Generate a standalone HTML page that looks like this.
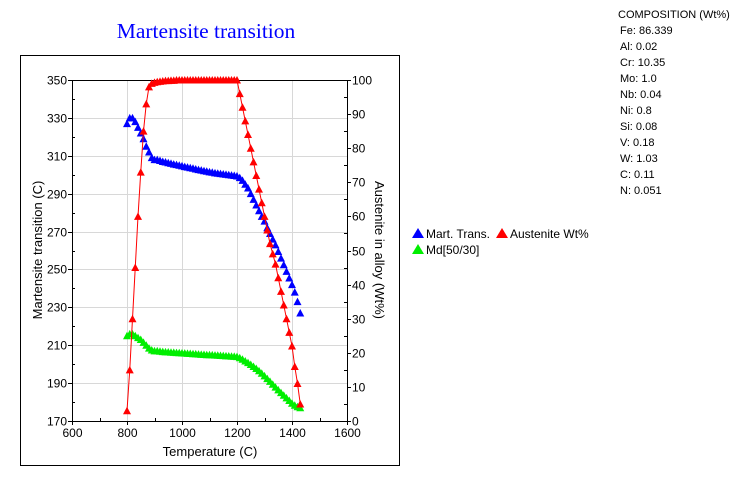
<!DOCTYPE html>
<html><head><meta charset="utf-8"><style>
body{margin:0;background:#fff;width:744px;height:482px;overflow:hidden;font-family:"Liberation Sans",sans-serif}
svg{position:absolute;left:0;top:0}
</style></head><body>
<svg id="c" width="744" height="482" xmlns="http://www.w3.org/2000/svg">
<text x="206" y="38" text-anchor="middle" font-family="Liberation Serif" font-size="21.5" fill="#0000ff">Martensite transition</text>
<rect x="20.5" y="55.5" width="379" height="410" fill="none" stroke="#000"/>
<g id="grid"></g>
<g id="axes"></g>
<g id="series"></g>
<text transform="translate(42,250) rotate(-90)" text-anchor="middle" font-size="13">Martensite transition (C)</text>
<text transform="translate(379,250) rotate(90)" text-anchor="middle" font-size="13" dy="4">Austenite in alloy (Wt%)</text>
<text x="210" y="456" text-anchor="middle" font-size="13">Temperature (C)</text>
<g font-size="12">
<g><polygon points="412,238 418,228 424,238" fill="#0000ff"/><text x="426" y="238">Mart. Trans.</text></g>
<g><polygon points="496,238 502,228 508,238" fill="#ff0000"/><text x="510" y="238">Austenite Wt%</text></g>
<g><polygon points="412,254 418,244 424,254" fill="#00ee00"/><text x="426" y="254">Md[50/30]</text></g>
</g>
<g font-size="11">
<text x="618" y="18">COMPOSITION (Wt%)</text>
<text x="620" y="34">Fe: 86.339</text><text x="620" y="50">Al: 0.02</text><text x="620" y="66">Cr: 10.35</text>
<text x="620" y="82">Mo: 1.0</text><text x="620" y="98">Nb: 0.04</text><text x="620" y="114">Ni: 0.8</text>
<text x="620" y="130">Si: 0.08</text><text x="620" y="146">V: 0.18</text><text x="620" y="162">W: 1.03</text>
<text x="620" y="178">C: 0.11</text><text x="620" y="194">N: 0.051</text>
</g>
</svg>
<script>
const temps=[800,810,820,830,840,850,860,870,880,890,900,910,920,930,940,950,960,970,980,990,1000,1010,1020,1030,1040,1050,1060,1070,1080,1090,1100,1110,1120,1130,1140,1150,1160,1170,1180,1190,1200,1210,1220,1230,1240,1250,1260,1270,1280,1290,1300,1310,1320,1330,1340,1350,1360,1370,1380,1390,1400,1410,1420,1430];
const martTrans=[327,330,330,328,325,322,319,315,312,309,308,308,307.5,307,306.7,306.3,306,305.6,305.3,305,304.7,304.3,304,303.7,303.4,303,302.7,302.4,302.1,301.8,301.5,301.3,301,300.8,300.6,300.4,300.2,300,299.8,299.6,299.3,298.5,297,295,293,290,287,284,281,278,275.5,272,269,266,263,259.5,256,252.5,249,245.5,242,238,233,227];
const mdValues=[215,216,216,215,214,213,211.5,210,208.5,207.5,207,207,206.8,206.6,206.5,206.4,206.3,206.2,206.1,206,205.9,205.8,205.7,205.6,205.5,205.4,205.3,205.2,205.1,205,205,204.9,204.8,204.7,204.6,204.5,204.4,204.3,204.2,204.1,204,203.4,202.6,201.7,200.8,199.8,198.8,197.7,196.5,195.2,193.8,192.4,190.9,189.4,187.9,186.4,185,183.6,182.2,180.8,179.4,178.3,177.5,177];
const austenite=[3,15,30,45,60,73,85,93,98,99,99.3,99.5,99.6,99.7,99.8,99.8,99.9,99.9,100,100,100,100,100,100,100,100,100,100,100,100,100,100,100,100,100,100,100,100,100,100,100,96,92,88,84,80,76,72,68,64,60,56,52,49,46,42,38,34,30,26,22,16,11,5];
const xTicks=[600,800,1000,1200,1400,1600];
const yTicks=[170,190,210,230,250,270,290,310,330,350];
const y2Ticks=[0,10,20,30,40,50,60,70,80,90,100];
const NS="http://www.w3.org/2000/svg";
const L=72,R=347,T=80,B=421;
const xs=v=>L+(v-600)/1000*(R-L);
const ys=v=>B-(v-170)/180*(B-T);
const y2s=v=>B-v/100*(B-T);
function mk(p,tag,at){const e=document.createElementNS(NS,tag);for(const k in at)e.setAttribute(k,at[k]);p.appendChild(e);return e;}
const grid=document.getElementById('grid'),axes=document.getElementById('axes'),ser=document.getElementById('series');
yTicks.forEach((t,i)=>{const y=Math.round(ys(t))+.5;
 if(i>0&&i<yTicks.length-1){const g=mk(grid,'line',{x1:L,x2:R,y1:y,y2:y,stroke:'#d8d8d8'});}
 mk(axes,'line',{x1:L-4,x2:L,y1:y,y2:y,stroke:'#000'});
 const tx=mk(axes,'text',{x:L-5,y:y+4,'text-anchor':'end','font-size':12});tx.textContent=t;
 
 if(i<yTicks.length-1){const ym=Math.round(ys(t+10))+.5;mk(axes,'line',{x1:L,x2:L+3,y1:ym,y2:ym,stroke:'#000'});}
});
xTicks.forEach((t,i)=>{const x=Math.round(xs(t))+.5;
 if(i>0&&i<xTicks.length-1){const g=mk(grid,'line',{x1:x,x2:x,y1:T,y2:B,stroke:'#d8d8d8'});}
 mk(axes,'line',{x1:x,x2:x,y1:B,y2:B+4,stroke:'#000'});
 const tx=mk(axes,'text',{x:x,y:B+16,'text-anchor':'middle','font-size':12});tx.textContent=t;
 
 if(i<xTicks.length-1){const xm=Math.round(xs(t+100))+.5;mk(axes,'line',{x1:xm,x2:xm,y1:B-3,y2:B,stroke:'#000'});}
});
y2Ticks.forEach((t,i)=>{const y=Math.round(y2s(t))+.5;
 mk(axes,'line',{x1:R,x2:R+4,y1:y,y2:y,stroke:'#000'});
 const tx=mk(axes,'text',{x:R+5,y:y+4,'font-size':12});tx.textContent=t;
 
 if(i<y2Ticks.length-1){const ym=Math.round(y2s(t+5))+.5;mk(axes,'line',{x1:R-3,x2:R,y1:ym,y2:ym,stroke:'#000'});}
});
mk(axes,'line',{x1:L+.5,x2:L+.5,y1:T,y2:B,stroke:'#000'});
mk(axes,'line',{x1:R+.5,x2:R+.5,y1:T,y2:B,stroke:'#000'});
mk(axes,'line',{x1:L,x2:R,y1:T+.5,y2:T+.5,stroke:'#000'});
mk(axes,'line',{x1:L,x2:R,y1:B+.5,y2:B+.5,stroke:'#000'});
function tri(g,x,y,c){return mk(g,'polygon',{points:`${x-4},${y+3.5} ${x},${y-4} ${x+4},${y+3.5}`,fill:c});}
const gM=mk(ser,'g',{});
temps.forEach((t,i)=>{const p=tri(gM,xs(t),ys(martTrans[i]),'#0000ff');});
const gD=mk(ser,'g',{});
temps.forEach((t,i)=>{const p=tri(gD,xs(t),ys(mdValues[i]),'#00ee00');});
const gA=mk(ser,'g',{});
const ln=mk(gA,'polyline',{points:temps.map((t,i)=>xs(t)+','+y2s(austenite[i])).join(' '),fill:'none',stroke:'#ff0000','stroke-width':1});

temps.forEach((t,i)=>{const p=tri(gA,xs(t),y2s(austenite[i]),'#ff0000');});
</script>
</body></html>
